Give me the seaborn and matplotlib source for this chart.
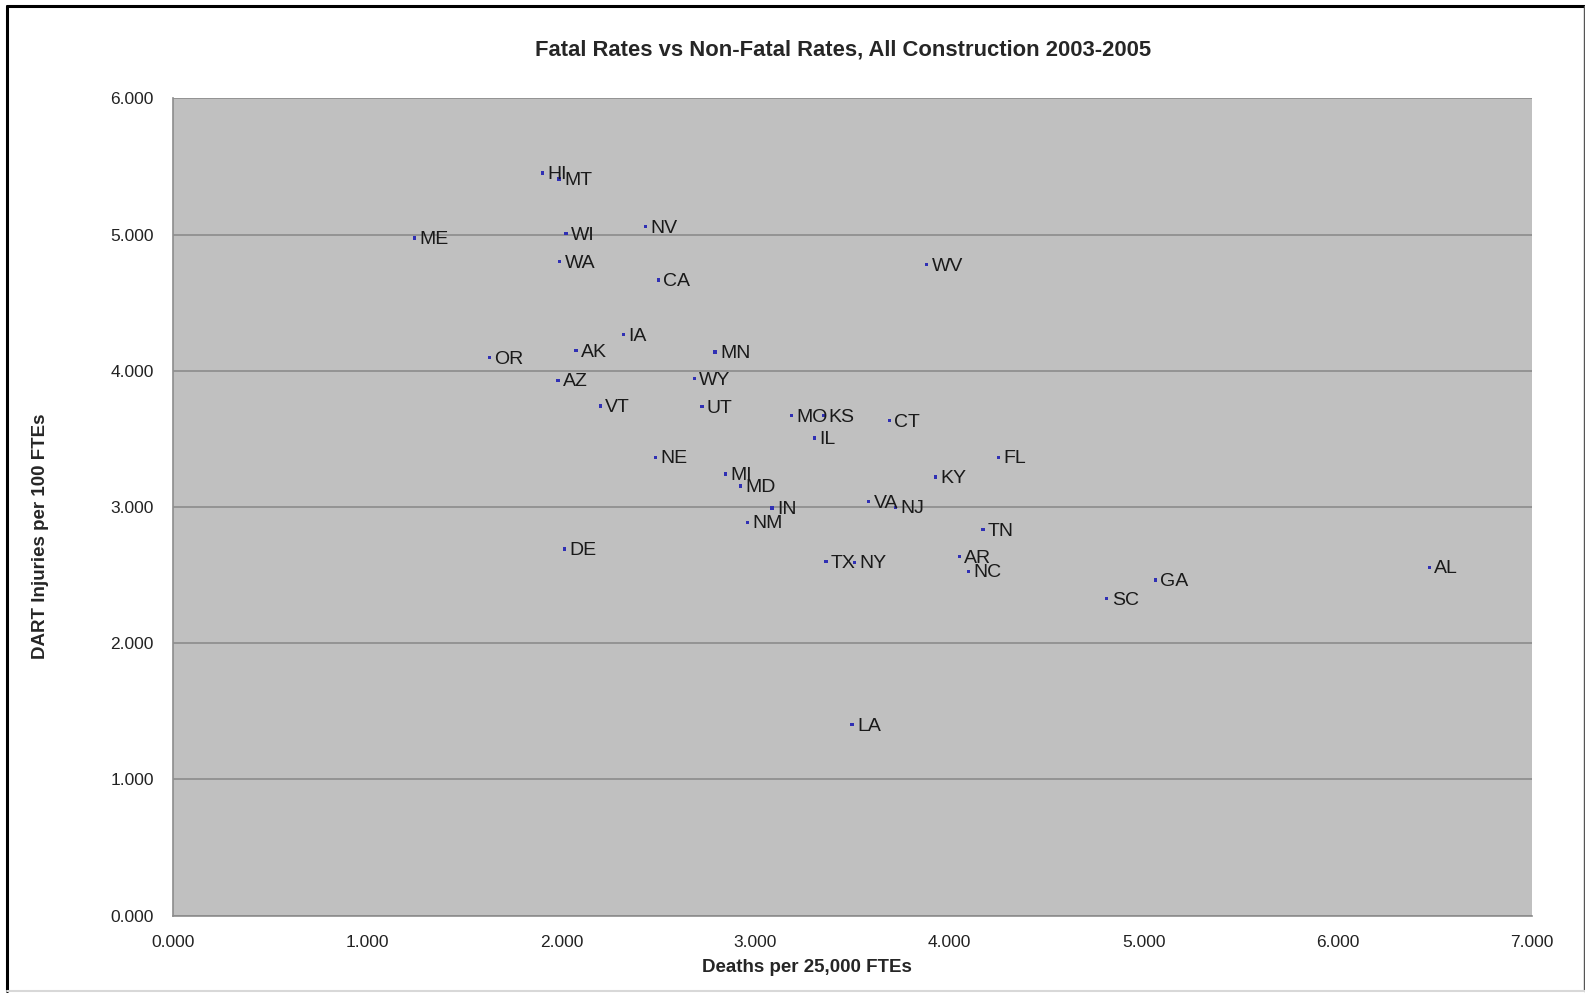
import matplotlib
matplotlib.use("Agg")
import matplotlib.pyplot as plt
from matplotlib.lines import Line2D
from matplotlib.ticker import FormatStrFormatter, MultipleLocator
import seaborn as sns
import pandas as pd

states = ["HI", "MT", "ME", "WI", "NV", "WA", "CA", "OR", "AK", "IA", "MN", "AZ", "WY",
          "VT", "UT", "NE", "IL", "MI", "MD", "IN", "NM", "VA", "NJ", "KY", "TX", "NY",
          "TN", "AR", "NC", "FL", "WV", "CT", "SC", "GA", "AL", "MO", "KS", "DE", "LA"]
deaths = [1.901, 1.988, 1.244, 2.024, 2.434, 1.990, 2.499, 1.628, 2.075, 2.319, 2.791, 1.983, 2.685,
          2.200, 2.724, 2.486, 3.305, 2.844, 2.921, 3.085, 2.958, 3.584, 3.720, 3.927, 3.363, 3.512,
          4.173, 4.050, 4.096, 4.251, 3.883, 3.689, 4.810, 5.061, 6.472, 3.184, 3.350, 2.014, 3.498]
dart = [5.451, 5.407, 4.974, 5.005, 5.059, 4.802, 4.667, 4.097, 4.148, 4.264, 4.137, 3.931, 3.941,
        3.742, 3.737, 3.366, 3.507, 3.243, 3.155, 2.993, 2.888, 3.040, 2.999, 3.221, 2.599, 2.595,
        2.834, 2.636, 2.529, 3.366, 4.780, 3.634, 2.328, 2.465, 2.558, 3.671, 3.669, 2.692, 1.402]

title = "Fatal Rates vs Non-Fatal Rates, All Construction 2003-2005"
xlabel = "Deaths per 25,000 FTEs"
ylabel = "DART Injuries per 100 FTEs"

df = pd.DataFrame({"state": states, "deaths": deaths, "dart": dart})

sns.set_style("white")
plt.rcParams["font.family"] = ["Liberation Sans", "DejaVu Sans"]

W, H = 1585, 993
fig = plt.figure(figsize=(W / 100, H / 100), dpi=100)
ax = fig.add_axes([173.3 / W, 1 - 915.7 / H, (1531.7 - 173.3) / W, (915.7 - 98.3) / H])
ax.set_facecolor("#C0C0C0")

sns.scatterplot(data=df, x="deaths", y="dart", ax=ax, marker="s", s=5.5,
                color="#3030b4", edgecolor="none", zorder=3, legend=False)

for s, x, y in zip(states, deaths, dart):
    ax.annotate(s, (x, y), xytext=(3.6, -1.2), textcoords="offset points",
                ha="left", va="center", fontsize=14, color="#1a1a1a", zorder=4)

ax.set_xlabel("")
ax.set_ylabel("")
ax.set_xlim(0, 7)
ax.set_ylim(0, 6)
ax.xaxis.set_major_locator(MultipleLocator(1))
ax.yaxis.set_major_locator(MultipleLocator(1))
ax.xaxis.set_major_formatter(FormatStrFormatter("%.3f"))
ax.yaxis.set_major_formatter(FormatStrFormatter("%.3f"))
ax.grid(axis="y", color="#8c8c8c", linewidth=1.2)
ax.grid(axis="x", visible=False)
ax.set_axisbelow(True)
for side in ["top", "right"]:
    ax.spines[side].set_visible(False)
for side in ["left", "bottom"]:
    ax.spines[side].set_color("#8c8c8c")
    ax.spines[side].set_linewidth(1.2)
ax.tick_params(axis="both", which="major", length=4, width=1, color="#8c8c8c",
               labelsize=12.5, labelcolor="#222222", direction="out")
ax.tick_params(axis="x", pad=10)
ax.tick_params(axis="y", pad=10)

fig.text(807 / W, 1 - 968 / H, xlabel, ha="center", va="center", fontsize=13.5,
         fontweight="bold")
fig.text(41 / W, 1 - 536 / H, ylabel, ha="center", va="center", fontsize=13.5,
         fontweight="bold", rotation=90)
fig.text(843 / W, 1 - 50 / H, title, ha="center", va="center", fontsize=15.8,
         fontweight="bold")

# chart frame
fig.add_artist(Line2D([7 / W, 7 / W], [1 - 6 / H, 1 - 991 / H], color="black", lw=2.2))
fig.add_artist(Line2D([7 / W, 1 - 1 / W], [1 - 6 / H, 1 - 6 / H], color="black", lw=2.2))
fig.add_artist(Line2D([1 - 1.5 / W, 1 - 1.5 / W], [1 - 6 / H, 1 - 991 / H], color="#555555", lw=1))
fig.add_artist(Line2D([7 / W, 1], [1 - 991 / H, 1 - 991 / H], color="#d8d8d8", lw=1.5))

fig.savefig("out.png", dpi=100, facecolor="white")
